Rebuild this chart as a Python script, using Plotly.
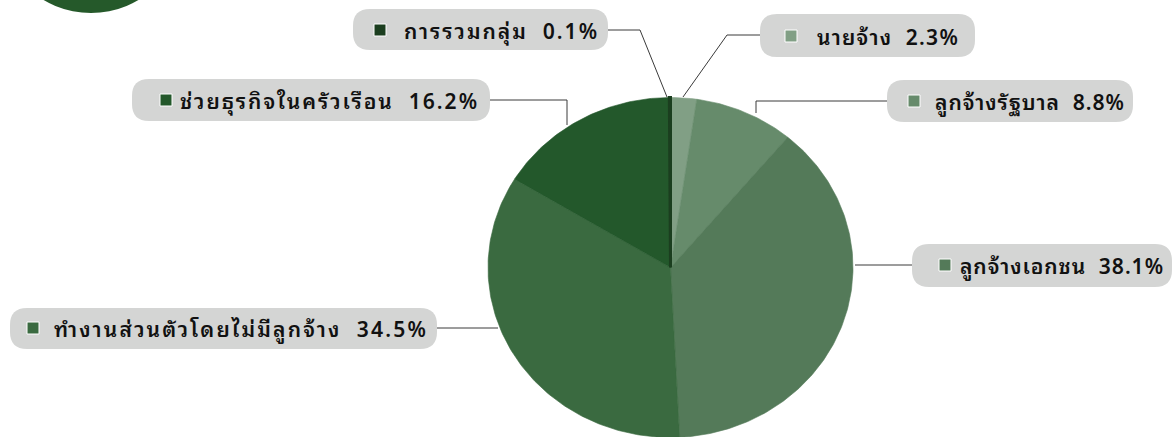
import json
import numpy as np
import plotly.graph_objects as go

# ---- data ----
categories = ["นายจ้าง", "ลูกจ้างรัฐบาล", "ลูกจ้างเอกชน",
              "ทำงานส่วนตัวโดยไม่มีลูกจ้าง", "ช่วยธุรกิจในครัวเรือน", "การรวมกลุ่ม"]
values = [2.3, 8.8, 38.1, 34.5, 16.2, 0.1]
colors = ["#819f85", "#668b6b", "#547a59", "#3a6a40", "#23582b", "#1b3e1f"]

# ---- layout geometry (pixels) ----
W, H = 1175, 437
CX, CY, RX, RY = 670.5, 267.5, 182.5, 170.0
FONT = "Noto Sans Thai Looped, Noto Sans Thai, sans-serif"

# label boxes: (x0, y0, x1, y1), marker x, text x, text width, text y, leader points
label_layout = {
    "นายจ้าง": ((760, 14, 975, 57), 785, 815, 142, 35, [(760, 35), (727, 35), (683, 97)]),
    "ลูกจ้างรัฐบาล": ((887, 80, 1133, 122), 908, 933, 190, 100, [(887, 101), (756, 101), (756, 113)]),
    "ลูกจ้างเอกชน": ((912, 244, 1172, 287), 939, 958, 204, 264, [(912, 265), (855, 265)]),
    "ทำงานส่วนตัวโดยไม่มีลูกจ้าง": ((10, 308, 437, 349), 27, 52, 374, 327, [(437, 328), (498, 328)]),
    "ช่วยธุรกิจในครัวเรือน": ((132, 79, 490, 121), 160, 178, 299, 99, [(490, 100), (567, 100), (567, 125)]),
    "การรวมกลุ่ม": ((353, 9, 608, 50), 374, 402, 195, 29, [(608, 30), (640, 30), (667, 97)]),
}

fig = go.Figure()

# pie slices computed from the values (clockwise from 12 o'clock)
total = sum(values)
cum = np.concatenate([[0], np.cumsum(values)]) / total * 2 * np.pi
for i, (cat, v) in enumerate(zip(categories, values)):
    t = np.linspace(cum[i], cum[i + 1], max(3, int(v * 4)))
    xs = np.concatenate([[CX], CX + RX * np.sin(t), [CX]])
    ys = np.concatenate([[CY], CY - RY * np.cos(t), [CY]])
    fig.add_trace(go.Scatter(
        x=xs, y=ys, mode="lines", fill="toself", fillcolor=colors[i],
        line=dict(color=colors[i], width=0.6 if v >= 1 else 3),
        name=cat, hoverinfo="text", text=f"{cat} {v:.1f}%", showlegend=False))


def rrect(x0, y0, x1, y1, r):
    return (f"M{x0+r},{y0} L{x1-r},{y0} Q{x1},{y0} {x1},{y0+r} L{x1},{y1-r} "
            f"Q{x1},{y1} {x1-r},{y1} L{x0+r},{y1} Q{x0},{y1} {x0},{y1-r} "
            f"L{x0},{y0+r} Q{x0},{y0} {x0+r},{y0} Z")


shapes = []
annotations = []
targets = []
# decorative circle top-left
shapes.append(dict(type="circle", xref="x", yref="y", x0=91 - 93, x1=91 + 93,
                   y0=-80 - 93, y1=-80 + 93, fillcolor="#25592a", line=dict(width=0),
                   layer="above"))

for i, (cat, v) in enumerate(zip(categories, values)):
    (x0, y0, x1, y1), mx, tx, tw, ty, pts = label_layout[cat]
    targets.append(tw)
    shapes.append(dict(type="path", xref="x", yref="y", path=rrect(x0, y0, x1, y1, 17),
                       fillcolor="#d4d5d4", line=dict(width=0), layer="above"))
    shapes.append(dict(type="rect", xref="x", yref="y", x0=mx, x1=mx + 12,
                       y0=ty - 5, y1=ty + 7, fillcolor=colors[i],
                       line=dict(color="white", width=1), layer="above"))
    path = "M" + " L".join(f"{px},{py}" for px, py in pts)
    shapes.append(dict(type="path", xref="x", yref="y", path=path,
                       line=dict(color="#3a3a3a", width=1), layer="above"))
    annotations.append(dict(x=tx, y=ty, xref="x", yref="y", xanchor="left", align="left",
                            yanchor="middle", showarrow=False,
                            text=f"{cat}\u00a0\u00a0{v:.1f}%",
                            font=dict(family=FONT, size=21, color="#111111", weight=600)))

fig.update_layout(
    width=W, height=H, autosize=False,
    margin=dict(l=0, r=0, t=0, b=0),
    paper_bgcolor="white", plot_bgcolor="white",
    xaxis=dict(range=[0, W], visible=False, fixedrange=True),
    yaxis=dict(range=[H, 0], visible=False, fixedrange=True),
    shapes=shapes, annotations=annotations,
)

post = (
    "document.body.style.margin='0';"
    "var T=" + json.dumps(targets) + ";"
    "document.querySelectorAll('.annotation-text').forEach(function(e,i){"
    " e.style.letterSpacing='0px'; var w0=e.getBBox().width;"
    " e.style.letterSpacing='1px'; var w1=e.getBBox().width;"
    " var k=w1-w0; var s=k>0?(T[i]-w0)/k:0; if(s<0){s=0;}"
    " e.style.letterSpacing=s.toFixed(2)+'px';});"
)
fig.write_html("out.html", config={"displayModeBar": False}, post_script=post)
